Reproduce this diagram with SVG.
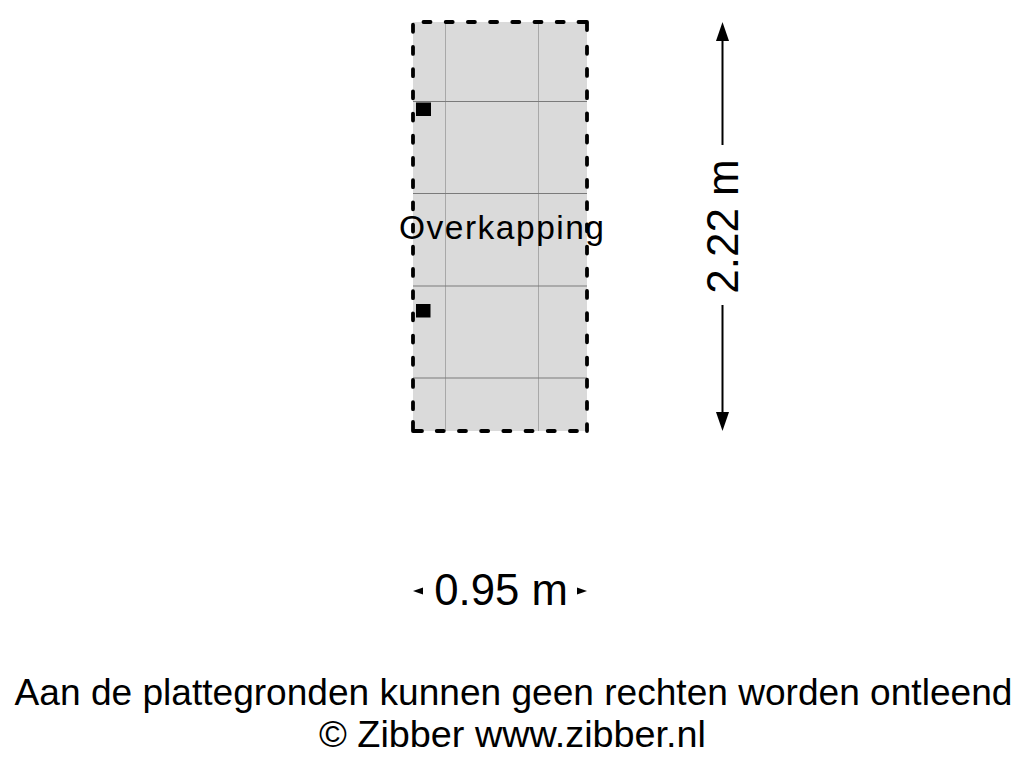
<svg xmlns="http://www.w3.org/2000/svg" width="1024" height="768" viewBox="0 0 1024 768">
<style>
text{font-family:"Liberation Sans",Arial,sans-serif;fill:#000}
.dash{fill:none;stroke:#000;stroke-width:3.8;stroke-linecap:round;stroke-dasharray:7 15.2}
.corner{fill:none;stroke:#000;stroke-width:3.8;stroke-linecap:round;stroke-linejoin:round}
.gv{stroke:#a8a8a8;stroke-width:1;fill:none}
.gh{stroke:#7a7a7a;stroke-width:1;fill:none}
.dim{stroke:#000;stroke-width:2;fill:none}
</style>
<rect width="1024" height="768" fill="#fff"/>
<g id="room">
<rect x="413" y="22" width="174" height="409" fill="#dadada"/>
<path class="gv" d="M445.5 22V431M538.5 22V431"/>
<path class="gh" d="M413 101.5H587M413 193.5H587M413 286H587M413 378H587"/>
<path class="dash" d="M423.5 22H570"/>
<path class="dash" d="M413 24.75V415"/>
<path class="dash" d="M587 46.75V431"/>
<path class="dash" d="M436.75 431H580"/>
<path class="corner" d="M578.5 22H587V30"/>
<path class="corner" d="M413 422V431H422"/>
<rect x="416" y="102.5" width="15" height="13.5" fill="#000"/>
<rect x="416" y="304" width="14.5" height="13.5" fill="#000"/>
<text x="399" y="238.5" font-size="33.5" textLength="205" lengthAdjust="spacing">Overkapping</text>
</g>
<g id="connectors">
<path class="dim" d="M722.5 40V145M722.5 305V413"/>
<path d="M722.5 22L729 41H716Z" fill="#000"/>
<path d="M722.5 431L729 412H716Z" fill="#000"/>
<path d="M413 591L423 587.5V594.5Z" fill="#000"/>
<path d="M587 591L577 587.5V594.5Z" fill="#000"/>
</g>
<g id="dim-height">
<text transform="translate(738 226.5) rotate(-90)" font-size="44" text-anchor="middle">2.22 m</text>
</g>
<g id="dim-width">
<text x="501" y="605" font-size="43.7" text-anchor="middle">0.95 m</text>
</g>
<g id="caption">
<text x="513.5" y="705" font-size="37.1" text-anchor="middle">Aan de plattegronden kunnen geen rechten worden ontleend</text>
<text x="512.5" y="747" font-size="37.8" text-anchor="middle">© Zibber www.zibber.nl</text>
</g>
</svg>
